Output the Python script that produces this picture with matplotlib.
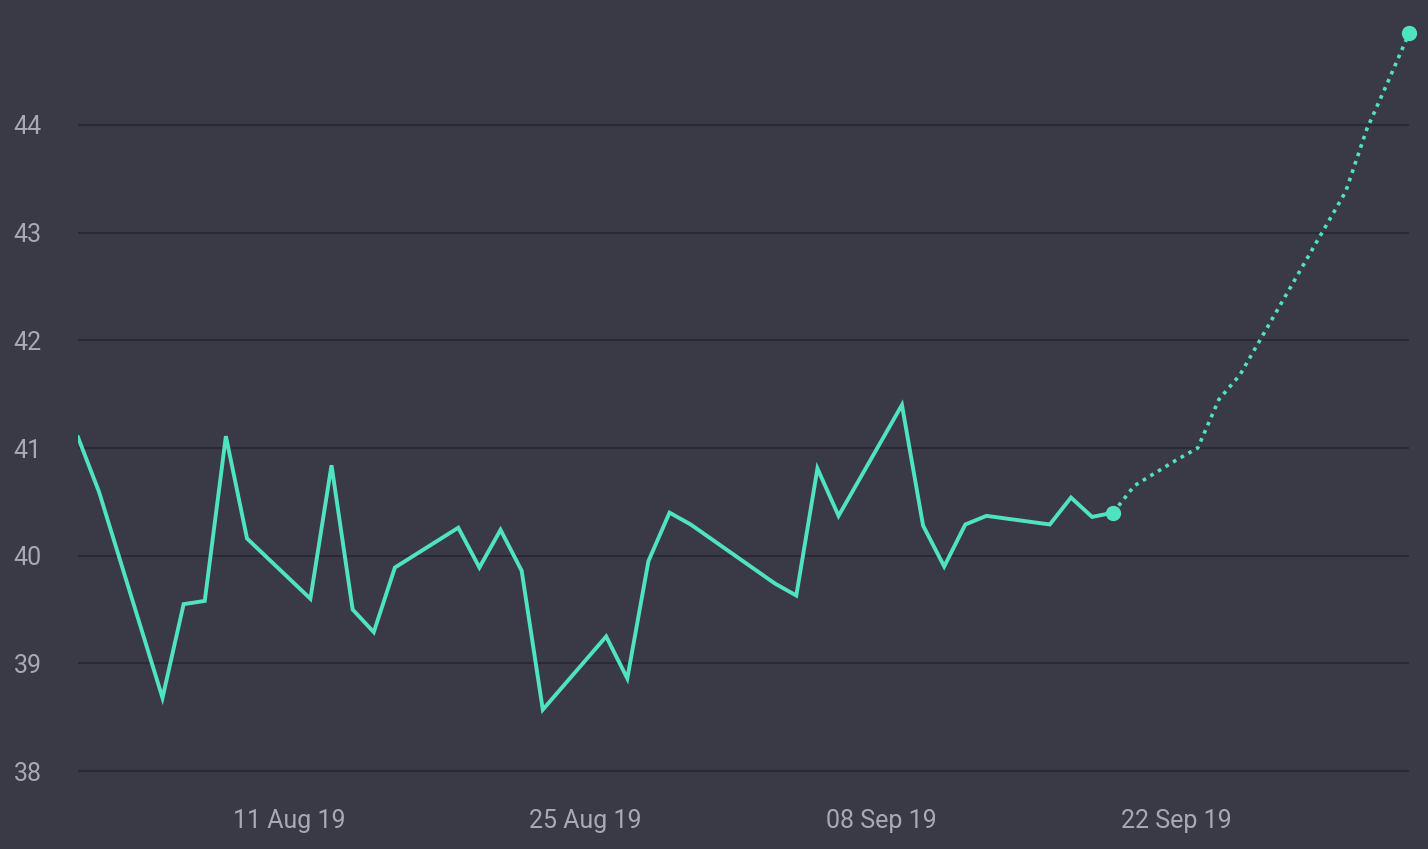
import matplotlib
matplotlib.use("Agg")
import matplotlib.pyplot as plt
import matplotlib.dates as mdates
import pandas as pd

hist_dates = ["2019-08-01", "2019-08-02", "2019-08-05", "2019-08-06", "2019-08-07", "2019-08-08",
              "2019-08-09", "2019-08-12", "2019-08-13", "2019-08-14", "2019-08-15", "2019-08-16",
              "2019-08-19", "2019-08-20", "2019-08-21", "2019-08-22", "2019-08-23", "2019-08-26",
              "2019-08-27", "2019-08-28", "2019-08-29", "2019-08-30", "2019-09-03", "2019-09-04",
              "2019-09-05", "2019-09-06", "2019-09-09", "2019-09-10", "2019-09-11", "2019-09-12",
              "2019-09-13", "2019-09-16", "2019-09-17", "2019-09-18", "2019-09-19"]
hist_values = [41.10, 40.59, 38.68, 39.55, 39.58, 41.11,
               40.16, 39.60, 40.84, 39.50, 39.29, 39.89,
               40.26, 39.89, 40.24, 39.86, 38.57, 39.25,
               38.86, 39.95, 40.40, 40.29, 39.74, 39.63,
               40.81, 40.37, 41.40, 40.28, 39.90, 40.29,
               40.37, 40.29, 40.54, 40.36, 40.40]

fc_dates = ["2019-09-19", "2019-09-20", "2019-09-21", "2019-09-22", "2019-09-23", "2019-09-24",
            "2019-09-25", "2019-09-26", "2019-09-27", "2019-09-28", "2019-09-29", "2019-09-30",
            "2019-10-01", "2019-10-02", "2019-10-03"]
fc_values = [40.40, 40.65, 40.77, 40.89, 41.00, 41.45,
             41.68, 42.02, 42.36, 42.70, 43.04, 43.38,
             43.96, 44.40, 44.85]

y_ticks = [38, 39, 40, 41, 42, 43, 44]
x_ticks = ["2019-08-11", "2019-08-25", "2019-09-08", "2019-09-22"]

hd = pd.to_datetime(hist_dates)
fd = pd.to_datetime(fc_dates)

BG = "#3a3a46"
GRID = "#2a2a33"
LINE = "#50e3c2"
TEXT = "#a8a8b6"

plt.rcParams['font.family'] = ['Roboto', 'DejaVu Sans']

fig = plt.figure(figsize=(14.28, 8.49), dpi=100, facecolor=BG)
ax = fig.add_axes([78/1428, 59/849, (1409-78)/1428, (790-10)/849])
ax.set_facecolor(BG)

ax.plot(hd, hist_values, color=LINE, lw=2.8, solid_joinstyle="miter", zorder=3)
ax.plot(fd, fc_values, color=LINE, lw=2.6, linestyle=(0, (1, 1.45)), dash_capstyle="butt", zorder=3)
ax.plot([hd[-1]], [hist_values[-1]], "o", color=LINE, ms=10, zorder=4)
ax.plot([fd[-1]], [fc_values[-1]], "o", color=LINE, ms=10, zorder=4, clip_on=False)

ax.set_xlim(hd[0], fd[-1])
ax.set_ylim(37.824, 45.068)
ax.set_yticks(y_ticks)
ax.set_xticks(pd.to_datetime(x_ticks))
ax.xaxis.set_major_formatter(mdates.DateFormatter("%d %b %y"))

ax.grid(axis="y", color=GRID, lw=1.5)
ax.grid(axis="x", visible=False)
ax.set_axisbelow(True)
for s in ax.spines.values():
    s.set_visible(False)
ax.tick_params(axis="both", length=0, colors=TEXT, labelsize=18)
ax.tick_params(axis="y", pad=26)
ax.tick_params(axis="x", pad=14)

fig.savefig("out.png", dpi=100, facecolor=BG)
